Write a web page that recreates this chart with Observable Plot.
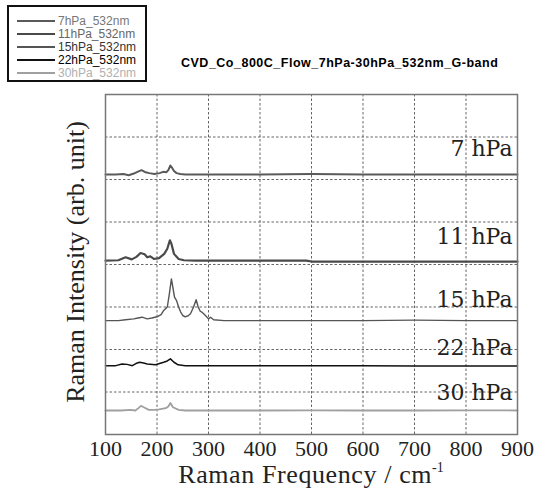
<!DOCTYPE html>
<html><head><meta charset="utf-8">
<script src="https://cdn.jsdelivr.net/npm/d3@7"></script>
<script src="https://cdn.jsdelivr.net/npm/@observablehq/plot@0.6"></script>
<style>
body{margin:0;background:#fff;}
#wrap{position:relative;width:534px;height:495px;overflow:hidden;background:#fff;}
#chart{position:absolute;left:0;top:0;}
#legend{position:absolute;left:7px;top:5px;width:136px;height:73px;border:2px solid #111;background:#fff;font-family:"Liberation Sans",Arial,sans-serif;font-size:12px;}
.row{position:absolute;left:0;height:13px;width:136px;}
.row .ln{position:absolute;left:8px;width:38px;}
.row .tx{position:absolute;left:49px;top:0;line-height:13px;white-space:nowrap;}
#title{position:absolute;left:181px;top:56px;font-family:"Liberation Sans",Arial,sans-serif;font-weight:bold;font-size:12.5px;letter-spacing:0.5px;line-height:14px;color:#000;white-space:nowrap;}
#xtitle{position:absolute;left:105px;width:412px;top:462.2px;line-height:26px;text-align:center;font-family:"Liberation Serif","Times New Roman",serif;font-size:26px;letter-spacing:0.6px;color:#222;white-space:nowrap;}
#xtitle sup{font-size:14px;line-height:0;position:relative;top:-2px;vertical-align:super;letter-spacing:0;}
#yt{position:absolute;left:76px;top:262px;width:0;height:0;transform:rotate(-90deg);transform-origin:0 0;}
#yt span{position:absolute;left:0;top:0;transform:translate(-50%,-50%);font-family:"Liberation Serif","Times New Roman",serif;font-size:26px;line-height:28px;color:#222;white-space:nowrap;}
</style>
</head><body>
<div id="wrap">
  <div id="chart"></div>
  <div id="title">CVD_Co_800C_Flow_7hPa-30hPa_532nm_G-band</div>
  <div id="xtitle">Raman Frequency / cm<sup>-1</sup></div>
  <div id="yt"><span>Raman Intensity (arb. unit)</span></div>
  <div id="legend"></div>
</div>
<script>
// ---- data ----
const seriesNames = ["7hPa_532nm","11hPa_532nm","15hPa_532nm","22hPa_532nm","30hPa_532nm"];
const pressureLabels = ["7 hPa","11 hPa","15 hPa","22 hPa","30 hPa"];
const labelY = [6.56, 4.49, 3.01, 1.86, 0.82];
const xTicks = [100,200,300,400,500,600,700,800,900];
const yGrid = [1,2,3,4,5,6,7];

const p7x  = [100,120,135,145,155,162,170,178,185,195,205,212,218,222,226,229,233,238,245,255,300,400,500,600,700,800,900];
const p7y  = [6.12,6.12,6.13,6.10,6.14,6.18,6.22,6.17,6.15,6.13,6.15,6.18,6.17,6.22,6.33,6.28,6.20,6.15,6.13,6.12,6.12,6.12,6.13,6.12,6.12,6.12,6.12];

const p11x = [100,125,139,151,160,168,176,181,187,194,204,214,220,225,228,233,242,252,275,300,400,490,500,600,700,800,900];
const p11y = [4.09,4.10,4.17,4.12,4.18,4.27,4.24,4.17,4.19,4.13,4.15,4.25,4.37,4.57,4.49,4.25,4.13,4.10,4.09,4.09,4.09,4.09,4.07,4.07,4.07,4.07,4.07];

const p15x = [100,125,139,155,163,171,181,190,200,208,213,220,224,228,231,234,238,242,246,250,255,260,265,271,276,280,284,287,294,300,304,310,330,400,500,600,700,800,900];
const p15y = [2.68,2.68,2.70,2.72,2.74,2.76,2.72,2.74,2.77,2.82,2.92,3.00,3.31,3.66,3.45,3.23,3.15,3.00,2.88,2.80,2.77,2.79,2.84,3.00,3.17,3.00,2.90,2.88,2.80,2.72,2.76,2.70,2.68,2.68,2.68,2.68,2.69,2.68,2.68];

const p22x = [100,120,132,142,152,159,166,174,181,197,213,220,226,233,241,255,300,400,500,600,700,800,900];
const p22y = [1.62,1.62,1.66,1.65,1.62,1.67,1.70,1.68,1.66,1.64,1.70,1.73,1.78,1.70,1.64,1.62,1.62,1.62,1.62,1.62,1.61,1.61,1.61];

const p30x = [100,130,148,158,164,169,176,184,195,204,217,222,226,231,242,255,300,400,500,600,700,800,900];
const p30y = [0.565,0.565,0.58,0.565,0.62,0.675,0.63,0.58,0.58,0.59,0.62,0.66,0.74,0.64,0.58,0.565,0.565,0.565,0.57,0.565,0.565,0.57,0.565];

// ---- build ----
const seriesX = [p7x,p11x,p15x,p22x,p30x];
const seriesY = [p7y,p11y,p15y,p22y,p30y];
const strokes = ["#5a5a5a","#4a4a4a","#555","#111","#a0a0a0"];
const widths  = [2,2.2,1.4,1.5,1.8];
const legendText = ["#777","#666","#333","#000","#b0b0b0"];

const lineMarks = seriesNames.map((name,i)=>
  Plot.line(seriesX[i].map((x,j)=>({x, y: seriesY[i][j]})),
    {x:"x", y:"y", stroke: strokes[i], strokeWidth: widths[i], strokeLinejoin:"round"}));

const labels = pressureLabels.map((t,i)=>({t, y: labelY[i]}));

const plot = Plot.plot({
  width: 534, height: 495,
  marginLeft: 105, marginRight: 17, marginTop: 94, marginBottom: 61,
  style: {fontFamily: '"Liberation Serif","Times New Roman",serif', fontSize: "22px", color: "#222", background: "#fff"},
  x: {domain: [100,900]},
  y: {domain: [0,8], axis: null},
  marks: [
    Plot.ruleX(xTicks.slice(1,-1), {stroke:"#555", strokeWidth:0.9, strokeDasharray:"2.5,2"}),
    Plot.ruleY(yGrid, {stroke:"#555", strokeWidth:0.9, strokeDasharray:"2.5,2"}),
    ...lineMarks,
    Plot.text(labels, {x: 900, y: "y", text: "t", textAnchor: "end", dx: -5, lineAnchor: "bottom", fontSize: 22, fontFamily: '"DejaVu Serif",serif', fill: "#222"}),
    Plot.frame({stroke:"#777", strokeWidth:1.5}),
    Plot.axisX({ticks: xTicks, tickSize: 0, tickPadding: 6, fontSize: 22, label: null, tickFormat: d => String(d)})
  ]
});
document.getElementById("chart").appendChild(plot);

// legend
const lg = document.getElementById("legend");
const rowTops = [7.5, 20.5, 33.5, 46.5, 59.5];
seriesNames.forEach((n,i)=>{
  const r = document.createElement("div");
  r.className = "row"; r.style.top = rowTops[i] + "px";
  const ln = document.createElement("div");
  ln.className = "ln";
  ln.style.top = (6.5 - widths[i]/2) + "px";
  ln.style.height = widths[i] + "px";
  ln.style.background = strokes[i];
  const tx = document.createElement("div");
  tx.className = "tx"; tx.textContent = n; tx.style.color = legendText[i];
  r.appendChild(ln); r.appendChild(tx);
  lg.appendChild(r);
});
</script>
</body></html>
